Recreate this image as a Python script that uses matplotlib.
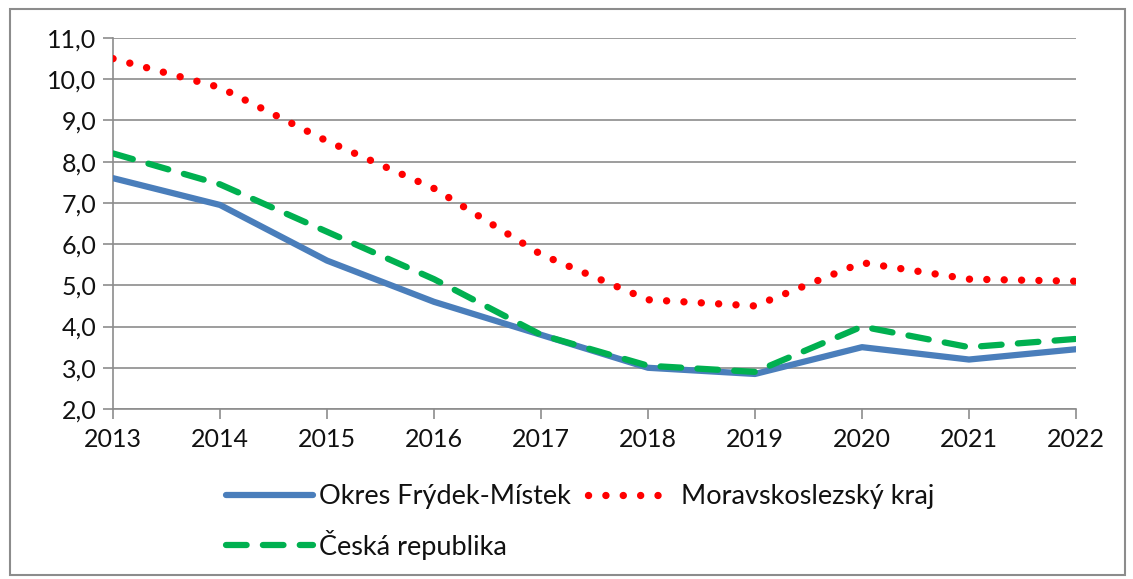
import matplotlib.pyplot as plt
from matplotlib.patches import Rectangle

# data
roky = [2013, 2014, 2015, 2016, 2017, 2018, 2019, 2020, 2021, 2022]
okres = [7.6, 6.95, 5.6, 4.6, 3.8, 3.0, 2.85, 3.5, 3.2, 3.45]
kraj = [10.5, 9.8, 8.5, 7.35, 5.75, 4.65, 4.5, 5.55, 5.15, 5.1]
cr = [8.2, 7.45, 6.3, 5.15, 3.8, 3.05, 2.9, 4.0, 3.5, 3.7]
yticks = [2, 3, 4, 5, 6, 7, 8, 9, 10, 11]

plt.rcParams['font.family'] = ['Lato', 'DejaVu Sans']

fig = plt.figure(figsize=(11.33, 5.79), dpi=100)
ax = fig.add_axes([113/1133, 1-409/579, (1076-113)/1133, (409-38)/579])

# grey frame round the whole chart
fig.patches.append(Rectangle((10/1133, 4/579), 1115/1133, 566/579, transform=fig.transFigure,
                             fill=False, edgecolor='#8c8c8c', linewidth=1.5))

l1, = ax.plot(roky, okres, color='#4a7ebb', lw=4.5, solid_capstyle='round',
              label='Okres Frýdek-Místek', zorder=3)
l3, = ax.plot(roky, cr, color='#00b050', lw=4.5, dashes=(3.3, 2.6), dash_capstyle='round',
              label='Česká republika', zorder=4)
l2, = ax.plot(roky, kraj, color='#ff0000', lw=5.3, dashes=(0.01, 2.35), dash_capstyle='round',
              label='Moravskoslezský kraj', zorder=3)

ax.set_xlim(2013, 2022)
ax.set_ylim(2, 11)
ax.set_xticks(roky)
ax.set_yticks(yticks)
ax.set_yticklabels([f'{v:.1f}'.replace('.', ',') for v in yticks])
ax.grid(axis='y', color='#8c8c8c', lw=1.2)
ax.set_axisbelow(True)
for s in ['top', 'right']:
    ax.spines[s].set_visible(False)
for s in ['left', 'bottom']:
    ax.spines[s].set_color('#8c8c8c')
    ax.spines[s].set_linewidth(1.2)
ax.tick_params(axis='both', colors='#8c8c8c', length=7, width=1.2, labelsize=18,
               labelcolor='#111111')
ax.tick_params(axis='x', pad=7)
ax.tick_params(axis='y', pad=5)

leg = fig.legend(handles=[l1, l3, l2], ncol=2, loc='center', bbox_to_anchor=(0.512, 1-522/579),
                 frameon=False, fontsize=19.5, handlelength=3.2, handletextpad=0.25,
                 columnspacing=0.6, labelspacing=0.75)
for t in leg.get_texts():
    t.set_color('#111111')

fig.savefig('out.png', dpi=100)
